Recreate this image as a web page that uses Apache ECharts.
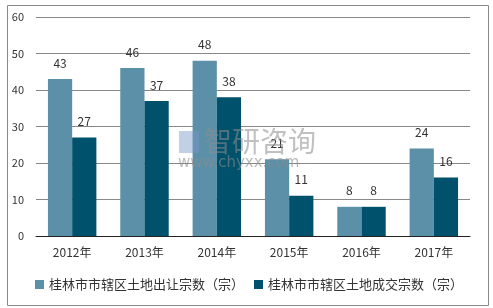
<!DOCTYPE html>
<html>
<head>
<meta charset="utf-8">
<script src="https://cdn.jsdelivr.net/npm/echarts@6/dist/echarts.min.js"></script>
<style>
  html, body { margin: 0; padding: 0; background: #fff; }
  #main { width: 493px; height: 308px; }
</style>
</head>
<body>
<div id="main"></div>
<script>
const years = ['2012年', '2013年', '2014年', '2015年', '2016年', '2017年'];
const sold = [43, 46, 48, 21, 8, 24];
const traded = [27, 37, 38, 11, 8, 16];
const seriesNames = ['桂林市市辖区土地出让宗数（宗）', '桂林市市辖区土地成交宗数（宗）'];

const font = '"Microsoft YaHei", "Noto Sans CJK SC", sans-serif';

const myChart = echarts.init(document.getElementById('main'));
const labelStyle = {
    show: true,
    position: 'top',
    distance: 10,
    color: '#333',
    fontSize: 12,
    fontFamily: font
};
myChart.setOption({
    animation: false,
    grid: { left: 36, right: 23, top: 17, bottom: 72 },
    legend: {
        data: seriesNames,
        left: 30,
        top: 273,
        itemWidth: 9,
        itemHeight: 9,
        itemGap: 10,
        icon: 'rect',
        textStyle: { fontSize: 13, color: '#333', fontFamily: font }
    },
    graphic: [
        {
            type: 'rect', left: 5, top: 3,
            shape: { width: 481, height: 300 },
            style: { fill: 'none', stroke: '#888', lineWidth: 1 }
        },
        {
            type: 'rect', left: 179, top: 131, z: 10,
            shape: { width: 20, height: 22 },
            style: { fill: 'rgba(120,150,200,0.45)' }
        },
        {
            type: 'text', left: 204, top: 127, z: 10,
            style: { text: '智研咨询', fontSize: 28, fill: 'rgba(140,140,140,0.55)', fontFamily: font }
        },
        {
            type: 'text', left: 178, top: 156, z: 10,
            style: { text: 'www.chyxx.com', fontSize: 15, fill: 'rgba(140,140,140,0.6)', fontFamily: 'Verdana, DejaVu Sans, sans-serif' }
        }
    ],
    xAxis: {
        type: 'category',
        data: years,
        axisTick: { show: false },
        axisLine: { lineStyle: { color: '#222', width: 1 } },
        axisLabel: { color: '#333', fontSize: 12, margin: 10, fontFamily: font }
    },
    yAxis: {
        type: 'value',
        min: 0,
        max: 60,
        interval: 10,
        axisLine: { show: false },
        axisTick: { show: false },
        axisLabel: { color: '#333', fontSize: 11, margin: 12, fontFamily: font },
        splitLine: { lineStyle: { color: '#888', width: 1 } }
    },
    series: [
        {
            name: seriesNames[0],
            type: 'bar',
            data: sold,
            barGap: '0%',
            barCategoryGap: '33%',
            itemStyle: { color: '#5B90A8' },
            label: labelStyle
        },
        {
            name: seriesNames[1],
            type: 'bar',
            data: traded,
            itemStyle: { color: '#00516B' },
            label: labelStyle
        }
    ]
});
</script>
</body>
</html>
